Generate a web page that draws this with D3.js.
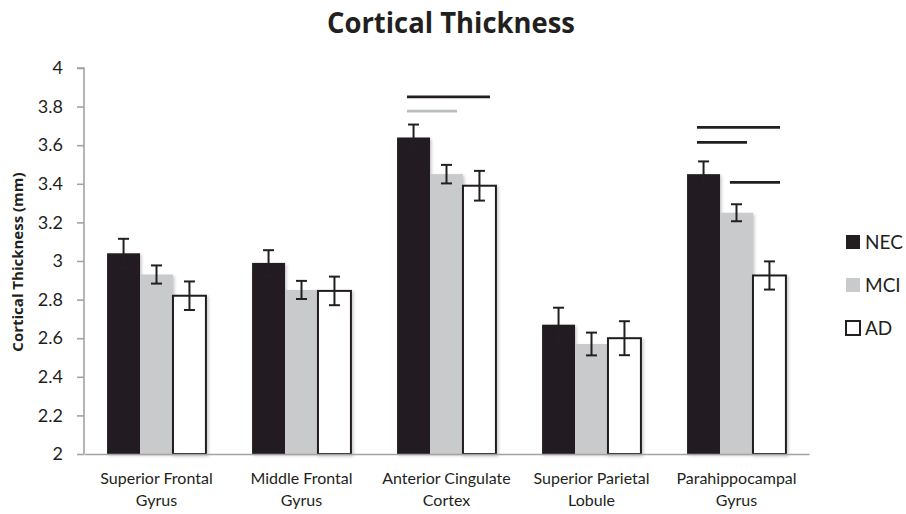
<!DOCTYPE html>
<html>
<head>
<meta charset="utf-8">
<script src="https://cdn.jsdelivr.net/npm/d3@7"></script>
<style>
  html, body { margin: 0; padding: 0; background: #fff; }
  svg { display: block; font-family: Lato, "Open Sans", sans-serif; }
</style>
</head>
<body>
<svg id="chart" width="906" height="514"></svg>
<script>
// ---- data ----
const categories = ["Superior Frontal Gyrus", "Middle Frontal Gyrus", "Anterior Cingulate Cortex", "Superior Parietal Lobule", "Parahippocampal Gyrus"];
const categoryLines = [["Superior Frontal", "Gyrus"], ["Middle Frontal", "Gyrus"], ["Anterior Cingulate", "Cortex"], ["Superior Parietal", "Lobule"], ["Parahippocampal", "Gyrus"]];
const series = ["NEC", "MCI", "AD"];
const necValues = [3.04, 2.99, 3.64, 2.67, 3.45];
const mciValues = [2.93, 2.85, 3.45, 2.57, 3.25];
const adValues  = [2.82, 2.845, 3.39, 2.60, 2.925];
const necErrors = [0.075, 0.066, 0.067, 0.088, 0.066];
const mciErrors = [0.047, 0.047, 0.048, 0.059, 0.044];
const adErrors  = [0.074, 0.074, 0.077, 0.088, 0.073];
const yTicks = [2, 2.2, 2.4, 2.6, 2.8, 3, 3.2, 3.4, 3.6, 3.8, 4];
// significance bars
const sigCategory = ["Anterior Cingulate Cortex", "Anterior Cingulate Cortex", "Parahippocampal Gyrus", "Parahippocampal Gyrus", "Parahippocampal Gyrus"];
const sigFrom = ["NEC", "NEC", "NEC", "NEC", "MCI"];
const sigTo = ["AD", "MCI", "AD", "MCI", "AD"];
const sigLevel = [3.85, 3.777, 3.692, 3.615, 3.407];
const sigTone = ["dark", "light", "dark", "dark", "dark"];

// ---- styles ----
const fillColor = { NEC: "#231f20", MCI: "#c9cacc", AD: "#ffffff" };
const ink = "#231f20";
const axisGrey = "#a3a3a3";
const toneColor = { dark: "#231f20", light: "#bcbdbf" };

const valuesBySeries = { NEC: necValues, MCI: mciValues, AD: adValues };
const errorsBySeries = { NEC: necErrors, MCI: mciErrors, AD: adErrors };
const rows = [];
categories.forEach((c, i) => series.forEach(s => rows.push({ cat: c, s, v: valuesBySeries[s][i], e: errorsBySeries[s][i] })));

const svg = d3.select("#chart");
const plotLeft = 84, plotRight = 809, plotTop = 68, plotBottom = 454;

const y = d3.scaleLinear().domain([2, 4]).range([plotBottom, plotTop]);
const x0 = d3.scaleBand().domain(categories).range([plotLeft, plotRight]).padding(0);
const x1 = d3.scaleBand().domain(series).range([0, x0.bandwidth()]).paddingInner(0).paddingOuter(0.7);

// shadow filter
const defs = svg.append("defs");
const f = defs.append("filter").attr("id", "sh").attr("x", "-20%").attr("y", "-20%").attr("width", "150%").attr("height", "150%");
f.append("feDropShadow").attr("dx", 1.5).attr("dy", 1.5).attr("stdDeviation", 1.4).attr("flood-color", "#000").attr("flood-opacity", 0.22);

// title
svg.append("text").attr("x", 451).attr("y", 33).attr("text-anchor", "middle")
  .attr("font-family", "'Open Sans', Lato, sans-serif")
  .attr("font-weight", 700).attr("font-size", 29).attr("fill", ink)
  .attr("textLength", 248).attr("lengthAdjust", "spacingAndGlyphs")
  .text("Cortical Thickness");

// y axis
const yAxis = d3.axisLeft(y).tickValues(yTicks).tickFormat(d3.format("~g")).tickSize(7).tickPadding(14);
const gy = svg.append("g").attr("transform", `translate(${plotLeft},0)`).call(yAxis);
gy.select(".domain").attr("stroke", axisGrey).attr("stroke-width", 1.6).attr("d", `M-7,${plotTop}H0V${plotBottom}`);
gy.selectAll(".tick line").attr("stroke", axisGrey).attr("stroke-width", 1.6);
gy.selectAll(".tick text").attr("font-size", 18).attr("fill", ink).attr("font-family", "Lato, sans-serif");

// y title
svg.append("text").attr("transform", `translate(23,262) rotate(-90)`)
  .attr("text-anchor", "middle").attr("font-weight", 700).attr("font-size", 15)
  .attr("font-family", "'Open Sans', Lato, sans-serif").attr("fill", ink).text("Cortical Thickness (mm)");

// bars
const bars = svg.append("g");
bars.selectAll("rect").data(rows).join("rect")
  .attr("x", d => x0(d.cat) + x1(d.s))
  .attr("y", d => y(d.v))
  .attr("width", x1.bandwidth())
  .attr("height", d => y(2) - y(d.v))
  .attr("fill", d => fillColor[d.s])
  .attr("stroke", d => d.s === "AD" ? ink : "none")
  .attr("stroke-width", 2)
  .attr("filter", "url(#sh)");

// x axis baseline
const xAxis = d3.axisBottom(x0).tickSize(0).tickFormat("");
const gx = svg.append("g").attr("transform", `translate(0,${plotBottom})`).call(xAxis);
gx.select(".domain").attr("stroke", axisGrey).attr("stroke-width", 1.6);

// category labels
const cl = svg.append("g");
categories.forEach((c, i) => {
  const cx = x0(c) + x0.bandwidth() / 2;
  const t = cl.append("text").attr("x", cx).attr("y", 484)
    .attr("text-anchor", "middle").attr("font-size", 16).attr("fill", ink).attr("font-family", "Lato, sans-serif");
  categoryLines[i].forEach((ln, k) => t.append("tspan").attr("x", cx).attr("dy", k === 0 ? 0 : 22).text(ln));
});

// error bars
const eb = svg.append("g").attr("stroke", ink).attr("stroke-width", 2).attr("fill", "none");
rows.forEach(d => {
  const cx = x0(d.cat) + x1(d.s) + x1.bandwidth() / 2;
  const y1 = y(d.v + d.e), y2 = y(d.v - d.e);
  eb.append("line").attr("x1", cx).attr("x2", cx).attr("y1", y1).attr("y2", y2);
  eb.append("line").attr("x1", cx - 5.5).attr("x2", cx + 5.5).attr("y1", y1).attr("y2", y1);
  eb.append("line").attr("x1", cx - 5.5).attr("x2", cx + 5.5).attr("y1", y2).attr("y2", y2);
});

// significance lines
const sg = svg.append("g");
sigCategory.forEach((c, i) => {
  const bw = x1.bandwidth();
  const xa = x0(c) + x1(sigFrom[i]) + bw * 0.3;
  const xb = x0(c) + x1(sigTo[i]) + bw * 0.82;
  sg.append("line").attr("x1", xa).attr("x2", xb).attr("y1", y(sigLevel[i])).attr("y2", y(sigLevel[i]))
    .attr("stroke", toneColor[sigTone[i]]).attr("stroke-width", 2.8);
});

// legend
const lg = svg.append("g").attr("transform", "translate(846,242)");
series.forEach((s, i) => {
  const g = lg.append("g").attr("transform", `translate(0,${i * 43})`);
  g.append("rect").attr("x", 0).attr("y", -7).attr("width", 14).attr("height", 14)
    .attr("fill", fillColor[s]).attr("stroke", s === "AD" ? ink : "none").attr("stroke-width", 2);
  g.append("text").attr("x", 19).attr("y", 0).attr("dy", "0.36em").attr("font-size", 19)
    .attr("fill", ink).attr("font-family", "Lato, sans-serif").text(s);
});
</script>
</body>
</html>
